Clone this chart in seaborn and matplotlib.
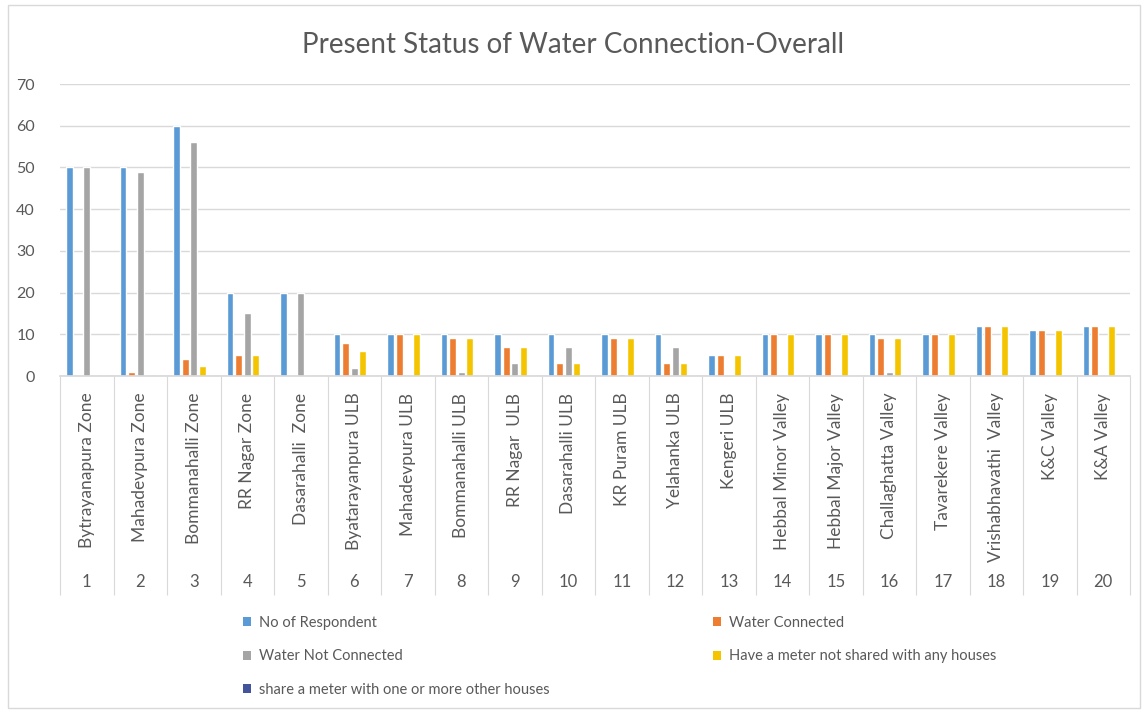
import numpy as np
import pandas as pd
import seaborn as sns
import matplotlib
matplotlib.use("Agg")
import matplotlib.pyplot as plt
from matplotlib.patches import Rectangle, Patch
from matplotlib.transforms import blended_transform_factory

# ---- data ----
categories = ["Bytrayanapura Zone", "Mahadevpura Zone", "Bommanahalli Zone", "RR Nagar Zone",
              "Dasarahalli  Zone", "Byatarayanpura ULB", "Mahadevpura ULB", "Bommanahalli ULB",
              "RR Nagar  ULB", "Dasarahalli ULB", "KR Puram ULB", "Yelahanka ULB", "Kengeri ULB",
              "Hebbal Minor Valley", "Hebbal Major Valley", "Challaghatta Valley", "Tavarekere Valley",
              "Vrishabhavathi  Valley", "K&C Valley", "K&A Valley"]
numbers = [str(i) for i in range(1, 21)]
series_names = ["No of Respondent", "Water Connected", "Water Not Connected",
                "Have a meter not shared with any houses", "share a meter with one or more other houses"]
respondents = [50, 50, 60, 20, 20, 10, 10, 10, 10, 10, 10, 10, 5, 10, 10, 10, 10, 12, 11, 12]
connected = [0, 1, 4, 5, 0, 8, 10, 9, 7, 3, 9, 3, 5, 10, 10, 9, 10, 12, 11, 12]
not_connected = [50, 49, 56, 15, 20, 2, 0, 1, 3, 7, 0.5, 7, 0, 0, 0, 1, 0, 0, 0, 0]
meter_not_shared = [0, 0, 2.5, 5, 0, 6, 10, 9, 7, 3, 9, 3, 5, 10, 10, 9, 10, 12, 11, 12]
meter_shared = [0] * 20

colors = ["#5B9BD5", "#ED7D31", "#A5A5A5", "#F5C400", "#44549C"]

rows = []
for name, vals in zip(series_names, [respondents, connected, not_connected, meter_not_shared, meter_shared]):
    for cat, v in zip(categories, vals):
        rows.append({"Category": cat, "Series": name, "Value": v})
df = pd.DataFrame(rows)

sns.set_theme(style="white")
plt.rcParams["font.family"] = ["Lato", "DejaVu Sans"]
text_col = "#595959"

fig = plt.figure(figsize=(11.47, 7.13), dpi=100)
ax = fig.add_axes([60 / 1147, 1 - 376 / 713, 1070 / 1147, 292 / 713])

sns.barplot(data=df, x="Category", y="Value", hue="Series", order=categories,
            hue_order=series_names, palette=colors, width=0.8, dodge=True,
            errorbar=None, ax=ax, legend=False, saturation=1)

# narrow the bars within their slots
for p in ax.patches:
    w = p.get_width()
    p.set_x(p.get_x() + w * 0.11)
    p.set_width(w * 0.78)

ax.set_ylim(0, 70)
ax.set_xlim(-0.5, 19.5)
ax.set_yticks(range(0, 71, 10))
ax.yaxis.grid(True, color="#D9D9D9", linewidth=1)
ax.set_axisbelow(True)
for s in ["top", "right", "left"]:
    ax.spines[s].set_visible(False)
ax.spines["bottom"].set_color("#D9D9D9")
ax.set_xlabel("")
ax.set_ylabel("")
ax.tick_params(axis="y", length=0, pad=18, labelsize=11.5, labelcolor=text_col)

ax.set_xticks(range(20))
ax.set_xticklabels(categories, rotation=90, va="top", ha="center", fontsize=12.5, color=text_col)
ax.tick_params(axis="x", which="major", length=0, pad=12)
ax.set_xticks(np.arange(-0.5, 20, 1), minor=True)
ax.tick_params(axis="x", which="minor", bottom=True, length=158, width=0.8, color="#D9D9D9",
               direction="out")

trans = blended_transform_factory(ax.transData, ax.transAxes)
for i, n in enumerate(numbers):
    ax.text(i, -0.705, n, transform=trans, ha="center", va="center", fontsize=12, color=text_col)

fig.text(0.5, 1 - 45 / 713, "Present Status of Water Connection-Overall", ha="center", va="center",
         fontsize=20, color=text_col)

handles = [Patch(facecolor=c, edgecolor="none") for c in colors]
leg_kw = dict(frameon=False, fontsize=10.5, labelcolor=text_col, handlelength=0.55,
              handleheight=0.55, handletextpad=0.55, labelspacing=1.33, borderaxespad=0, borderpad=0,
              loc="upper left")
leg1 = fig.legend([handles[0], handles[2], handles[4]], [series_names[0], series_names[2], series_names[4]],
                  bbox_to_anchor=(243 / 1147, 1 - 616 / 713), **leg_kw)
leg2 = fig.legend([handles[1], handles[3]], [series_names[1], series_names[3]],
                  bbox_to_anchor=(713 / 1147, 1 - 616 / 713), **leg_kw)

fig.patches.append(Rectangle((8 / 1147, 5 / 713), 1132 / 1147, 703 / 713, transform=fig.transFigure,
                             fill=False, edgecolor="#D9D9D9", linewidth=1))

fig.savefig("out.png", dpi=100)
